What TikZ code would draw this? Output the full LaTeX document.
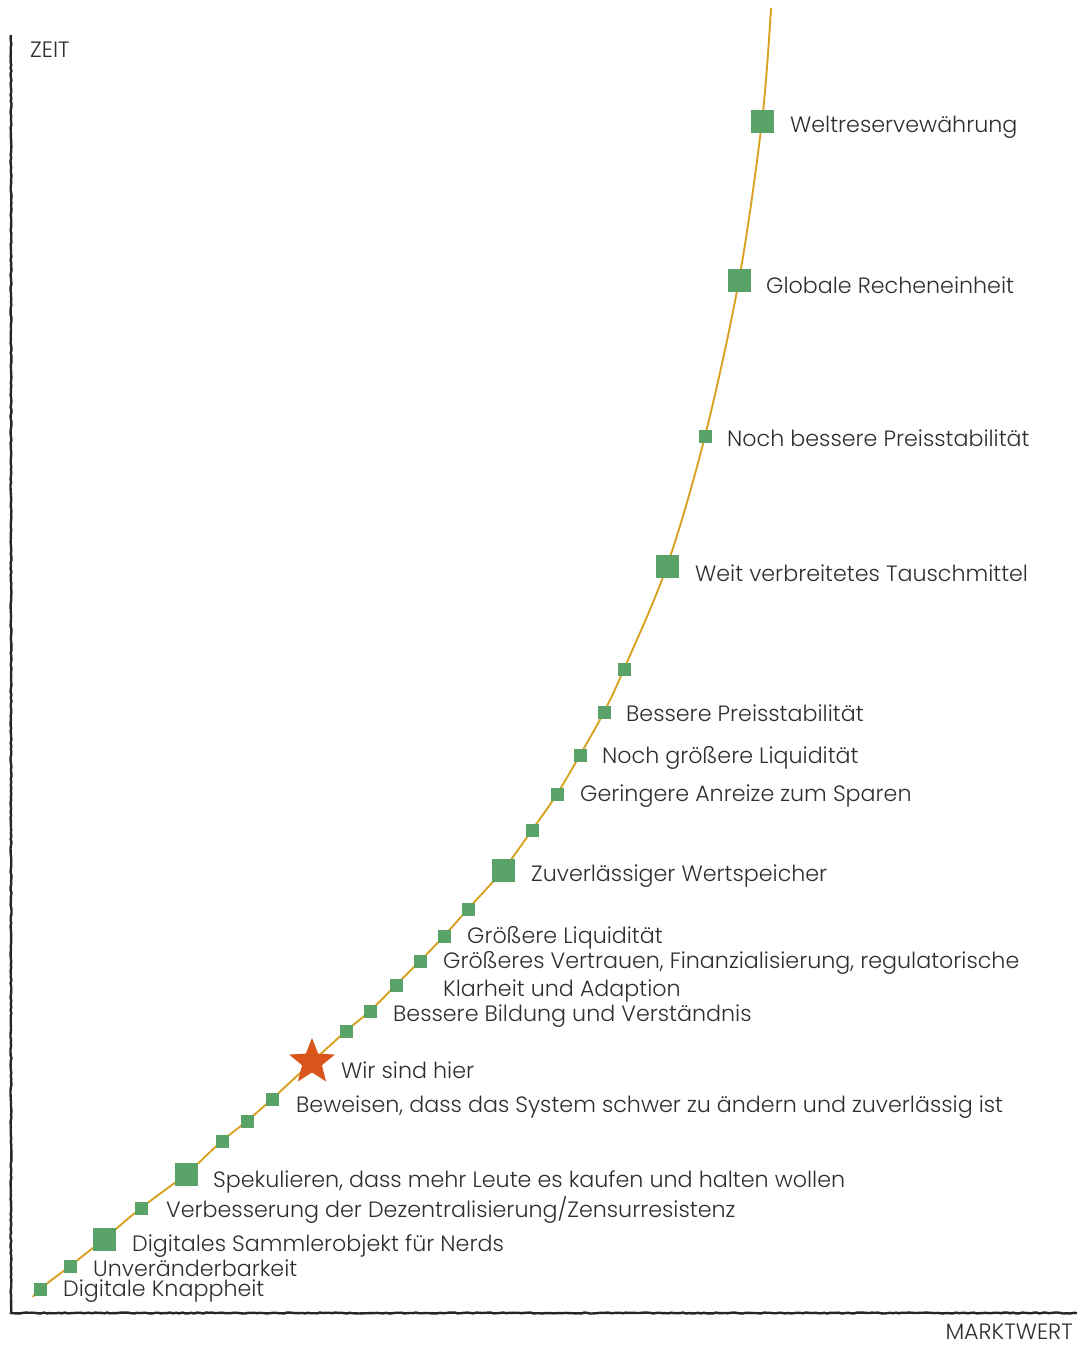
\documentclass[tikz,border=0pt]{standalone}
\usepackage{fontspec}
\setmainfont{Poppins}[UprightFont=* Light]
\usetikzlibrary{shapes.geometric,decorations.pathmorphing}
\definecolor{gold}{HTML}{D8A221}
\definecolor{mgreen}{HTML}{5AA368}
\definecolor{starred}{HTML}{D9541A}
\definecolor{txt}{HTML}{2E2E2E}
\begin{document}
\begin{tikzpicture}[x=1pt,y=-1pt,
  sq/.style={fill=mgreen,minimum size=13pt,inner sep=0pt,draw=none},
  bigsq/.style={fill=mgreen,minimum size=23pt,inner sep=0pt,draw=none},
  txtstyle/.style={text=txt,font=\fontsize{22.2}{28}\selectfont,inner sep=0pt},
  lbl/.style={txtstyle,anchor=west,yshift=-2.5pt},
  axis/.style={line width=2.4pt,black!85,decorate,decoration={random steps,segment length=3pt,amplitude=0.5pt}},
  curve/.style={gold,line width=1.9pt}]
\useasboundingbox (0,0) rectangle (1082,1347);
% axes
\coordinate (top) at (11,35);
\coordinate (origin) at (11,1313);
\coordinate (right) at (1077,1313);
\draw[axis] (top) -- (origin) -- (right);
\node[txtstyle,anchor=west] (zeit) at (30,50) {ZEIT};
\node[txtstyle,anchor=base east] (markt) at (1073,1339) {MARKTWERT};
% curve anchor points
\coordinate (c0) at (33,1297);
\coordinate (p1) at (40,1289);
\coordinate (p2) at (70,1266);
\coordinate (p3) at (104,1239);
\coordinate (p4) at (141,1208);
\coordinate (p5) at (186,1174);
\coordinate (p6) at (222,1141);
\coordinate (p7) at (247,1121);
\coordinate (p8) at (272,1099);
\coordinate (ps) at (312,1062);
\coordinate (p9) at (346,1031);
\coordinate (p10) at (370,1011);
\coordinate (p11) at (396,985);
\coordinate (p12) at (420,961);
\coordinate (p13) at (444,936);
\coordinate (p14) at (468,909);
\coordinate (p15) at (503,870);
\coordinate (p16) at (532,830);
\coordinate (p17) at (557,794);
\coordinate (p18) at (580,755);
\coordinate (p19) at (604,712);
\coordinate (p20) at (624,669);
\coordinate (p21) at (667,566);
\coordinate (p22) at (705,436);
\coordinate (p23) at (739,280);
\coordinate (p24) at (762,121);
\coordinate (cend) at (771,8);
\draw[curve] plot[smooth,tension=0.55] coordinates {(c0) (p1) (p2) (p3) (p4) (p5) (p6) (p7) (p8) (ps) (p9) (p10) (p11) (p12) (p13) (p14) (p15) (p16) (p17) (p18) (p19) (p20) (p21) (p22) (p23) (p24) (cend)};
% markers
\node[sq] (m1) at (p1) {};
\node[sq] (m2) at (p2) {};
\node[bigsq] (m3) at (p3) {};
\node[sq] (m4) at (p4) {};
\node[bigsq] (m5) at (p5) {};
\node[sq] (m6) at (p6) {};
\node[sq] (m7) at (p7) {};
\node[sq] (m8) at (p8) {};
\node[star,star points=5,star point ratio=2.3,fill=starred,minimum size=48pt,inner sep=0pt] (star) at (ps) {};
\node[sq] (m9) at (p9) {};
\node[sq] (m10) at (p10) {};
\node[sq] (m11) at (p11) {};
\node[sq] (m12) at (p12) {};
\node[sq] (m13) at (p13) {};
\node[sq] (m14) at (p14) {};
\node[bigsq] (m15) at (p15) {};
\node[sq] (m16) at (p16) {};
\node[sq] (m17) at (p17) {};
\node[sq] (m18) at (p18) {};
\node[sq] (m19) at (p19) {};
\node[sq] (m20) at (p20) {};
\node[bigsq] (m21) at (p21) {};
\node[sq] (m22) at (p22) {};
\node[bigsq] (m23) at (p23) {};
\node[bigsq] (m24) at (p24) {};
% labels
\node[lbl] (l1) at (63,1289) {Digitale Knappheit};
\node[lbl] (l2) at (93,1266) {Unveränderbarkeit};
\node[lbl] (l3) at (132,1244) {Digitales Sammlerobjekt für Nerds};
\node[lbl] (l4) at (166,1208) {Verbesserung der Dezentralisierung/Zensurresistenz};
\node[lbl] (l5) at (213,1179) {Spekulieren, dass mehr Leute es kaufen und halten wollen};
\node[lbl] (l8) at (296,1105) {Beweisen, dass das System schwer zu ändern und zuverlässig ist};
\node[lbl] (ls) at (341,1068) {Wir sind hier};
\node[lbl] (l10) at (393,1014) {Bessere Bildung und Verständnis};
\node[lbl,align=left] (l12) at (443,974) {Größeres Vertrauen, Finanzialisierung, regulatorische\\Klarheit und Adaption};
\node[lbl] (l13) at (467,935) {Größere Liquidität};
\node[lbl] (l15) at (531,874) {Zuverlässiger Wertspeicher};
\node[lbl] (l17) at (580,794) {Geringere Anreize zum Sparen};
\node[lbl] (l18) at (602,755) {Noch größere Liquidität};
\node[lbl] (l19) at (626,711) {Bessere Preisstabilität};
\node[lbl] (l21) at (695,571) {Weit verbreitetes Tauschmittel};
\node[lbl] (l22) at (727,436) {Noch bessere Preisstabilität};
\node[lbl] (l23) at (766,283) {Globale Recheneinheit};
\node[lbl] (l24) at (790,125) {Weltreservewährung};
\end{tikzpicture}
\end{document}
